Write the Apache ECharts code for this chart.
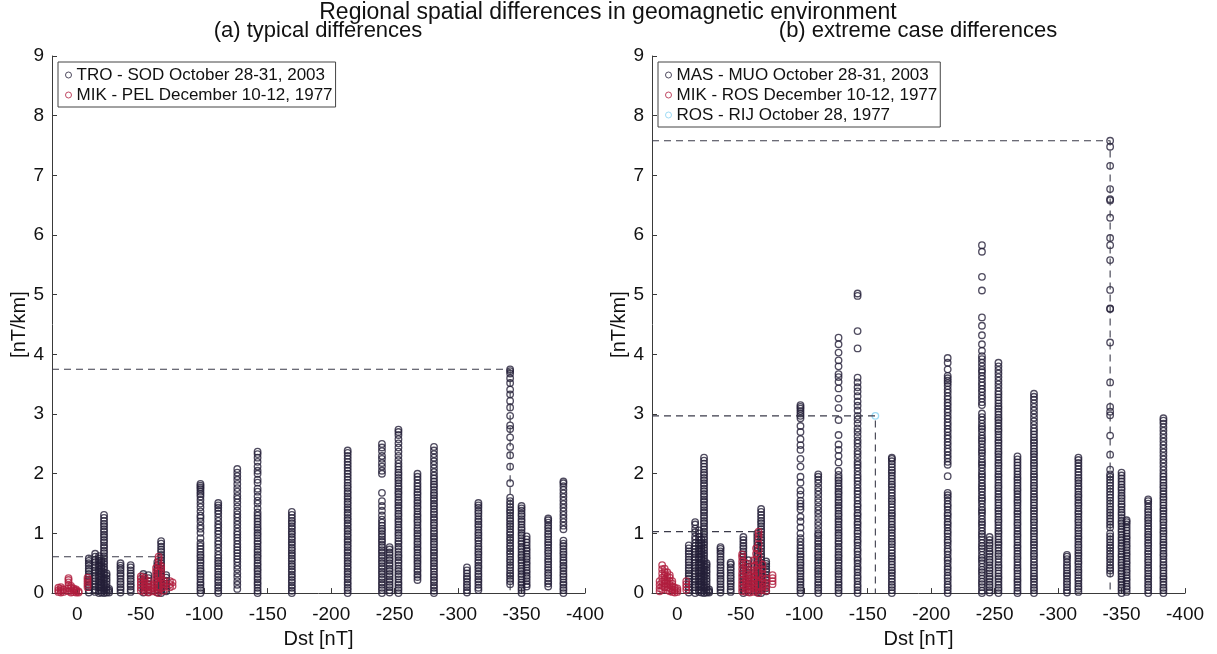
<!DOCTYPE html>
<html>
<head>
<meta charset="utf-8">
<script src="https://cdn.jsdelivr.net/npm/echarts@6/dist/echarts.min.js"></script>
<style>html,body{margin:0;padding:0;background:#fff}#c{width:1217px;height:654px}</style>
</head>
<body>
<div id="c"></div>
<script>
// ---------- DATA ----------
const mainTitle = 'Regional spatial differences in geomagnetic environment';
const panelTitles = ['(a) typical differences', '(b) extreme case differences'];
const xName = 'Dst [nT]';
const yName = '[nT/km]';
const xMin = -400, xMax = 20, xStep = 50;
const yMin = 0, yMax = 9, yStep = 1;

// (a) TRO - SOD October 28-31, 2003 : Dst column positions and the values in each column
const troSodDst = [-9,-14,-17,-19,-21,-23,-25,-34,-42,-52,-56,-63,-66,-70,-97,-111,-126,-142,-169,-213,-240,-246,-253,-268,-281,-307,-316,-341,-350,-354,-371,-383];
const troSodY = [
[0.01,0.05,0.1,0.14,0.19,0.23,0.28,0.32,0.37,0.41,0.46,0.5,0.54,0.58],
[0.02,0.06,0.11,0.15,0.2,0.25,0.29,0.34,0.38,0.43,0.47,0.52,0.56,0.61,0.66],
[0,0.04,0.09,0.13,0.18,0.22,0.27,0.31,0.36,0.4,0.45,0.49,0.54,0.58,0.62],
[0.01,0.05,0.1,0.15,0.19,0.24,0.28,0.33,0.37,0.42,0.46,0.51,0.55],
[0,0.04,0.08,0.13,0.17,0.22,0.26,0.31,0.35,0.4,0.44,0.49,0.53,0.58,0.62,0.67,0.71,0.76,0.8,0.85,0.89,0.94,0.98,1.03,1.07,1.12,1.16,1.21,1.26,1.31],
[0.01,0.06,0.1,0.15,0.2,0.24,0.29,0.33],
[0.01,0.04,0.07],
[0.01,0.06,0.1,0.15,0.19,0.24,0.29,0.33,0.38,0.42,0.46,0.5],
[0.02,0.06,0.11,0.15,0.2,0.24,0.29,0.33,0.38,0.43,0.47],
[0.01,0.05,0.1,0.14,0.19,0.23,0.28,0.32],
[0.02,0.06,0.11,0.15,0.2,0.25,0.3],
[0.01,0.06,0.1,0.15,0.19,0.24,0.29,0.33,0.38,0.42,0.47,0.52],
[0,0.05,0.09,0.14,0.18,0.23,0.28,0.32,0.37,0.41,0.46,0.5,0.55,0.6,0.64,0.69,0.73,0.78,0.83,0.87],
[0.03,0.07,0.12,0.16,0.21,0.26,0.3],
[0,0.05,0.09,0.14,0.18,0.23,0.28,0.32,0.37,0.41,0.46,0.51,0.55,0.6,0.64,0.69,0.74,0.79,0.84,0.92,1.01,1.08,1.13,1.2,1.26,1.3,1.37,1.44,1.5,1.56,1.62,1.66,1.7,1.74,1.77,1.8,1.83],
[0,0.04,0.09,0.13,0.18,0.22,0.27,0.31,0.36,0.41,0.45,0.5,0.54,0.59,0.64,0.7,0.76,0.82,0.87,0.93,0.99,1.04,1.1,1.15,1.21,1.27,1.33,1.38,1.43,1.47,1.51],
[0.07,0.14,0.2,0.27,0.33,0.4,0.46,0.52,0.57,0.62,0.67,0.72,0.77,0.82,0.88,0.93,0.98,1.03,1.09,1.15,1.21,1.27,1.32,1.38,1.45,1.52,1.58,1.63,1.7,1.76,1.83,1.9,1.96,2.02,2.08],
[0,0.04,0.09,0.14,0.18,0.23,0.27,0.32,0.37,0.41,0.46,0.5,0.55,0.6,0.64,0.69,0.73,0.78,0.83,0.87,0.92,0.97,1.01,1.06,1.1,1.15,1.2,1.25,1.3,1.35,1.42,1.5,1.55,1.62,1.7,1.75,1.85,1.9,2.0,2.05,2.12,2.2,2.27,2.33,2.37],
[0,0.04,0.09,0.13,0.18,0.22,0.27,0.31,0.36,0.4,0.45,0.49,0.54,0.58,0.63,0.67,0.72,0.76,0.81,0.85,0.9,0.94,0.99,1.03,1.08,1.12,1.17,1.21,1.26,1.31,1.36],
[0,0.05,0.09,0.14,0.18,0.23,0.27,0.32,0.36,0.41,0.45,0.5,0.54,0.59,0.63,0.68,0.72,0.77,0.81,0.86,0.9,0.95,0.99,1.04,1.08,1.13,1.17,1.22,1.26,1.31,1.35,1.4,1.44,1.49,1.53,1.58,1.62,1.67,1.71,1.76,1.8,1.85,1.9,1.95,2.0,2.05,2.1,2.15,2.2,2.25,2.3,2.35,2.39],
[0,0.05,0.09,0.14,0.18,0.23,0.27,0.32,0.36,0.41,0.45,0.5,0.54,0.59,0.63,0.68,0.72,0.77,0.81,0.86,0.9,0.95,0.99,1.04,1.08,1.13,1.18,1.23,1.3,1.38,1.46,1.54,1.68,2.0,2.05,2.12,2.18,2.25,2.3,2.38,2.44,2.5],
[0.01,0.05,0.1,0.14,0.19,0.23,0.28,0.32,0.37,0.41,0.46,0.5,0.55,0.59,0.64,0.68,0.73,0.77],
[0,0.05,0.09,0.14,0.18,0.23,0.28,0.32,0.37,0.41,0.46,0.51,0.55,0.6,0.64,0.69,0.74,0.78,0.83,0.87,0.92,0.97,1.01,1.06,1.1,1.15,1.2,1.24,1.29,1.33,1.38,1.43,1.47,1.52,1.56,1.61,1.66,1.7,1.75,1.79,1.84,1.89,1.93,1.98,2.02,2.07,2.12,2.17,2.23,2.3,2.37,2.44,2.51,2.58,2.65,2.7,2.74],
[0.22,0.27,0.31,0.36,0.4,0.45,0.5,0.54,0.59,0.63,0.68,0.73,0.77,0.82,0.86,0.91,0.96,1.0,1.05,1.09,1.14,1.19,1.23,1.28,1.32,1.37,1.42,1.46,1.51,1.55,1.6,1.65,1.69,1.74,1.79,1.84,1.9,1.95,2.0],
[0,0.04,0.09,0.13,0.18,0.22,0.27,0.31,0.36,0.41,0.45,0.5,0.54,0.59,0.63,0.68,0.72,0.77,0.82,0.86,0.91,0.95,1.0,1.04,1.09,1.14,1.18,1.23,1.27,1.32,1.36,1.41,1.46,1.5,1.55,1.59,1.64,1.68,1.73,1.78,1.82,1.87,1.92,1.97,2.03,2.09,2.15,2.21,2.27,2.33,2.39,2.45],
[0.01,0.05,0.1,0.14,0.19,0.24,0.28,0.33,0.38,0.43],
[0.05,0.09,0.14,0.19,0.23,0.28,0.32,0.37,0.42,0.46,0.51,0.55,0.6,0.65,0.69,0.74,0.78,0.83,0.88,0.92,0.97,1.01,1.06,1.11,1.15,1.2,1.24,1.29,1.34,1.38,1.43,1.47,1.51],
[0.15,0.2,0.24,0.29,0.33,0.38,0.43,0.47,0.52,0.56,0.61,0.66,0.7,0.75,0.79,0.84,0.89,0.93,0.98,1.02,1.07,1.12,1.16,1.21,1.25,1.3,1.35,1.39,1.44,1.49,1.54,1.6,1.84,2.12,2.31,2.45,2.61,2.75,2.81,2.97,3.11,3.22,3.33,3.41,3.52,3.6,3.68,3.72,3.75],
[0,0.05,0.09,0.14,0.18,0.23,0.28,0.32,0.37,0.41,0.46,0.51,0.55,0.6,0.64,0.69,0.74,0.78,0.83,0.87,0.92,0.97,1.01,1.06,1.1,1.15,1.2,1.24,1.29,1.33,1.38,1.42,1.46],
[0.11,0.15,0.2,0.25,0.29,0.34,0.38,0.43,0.48,0.52,0.57,0.61,0.66,0.71,0.75,0.8,0.85,0.9,0.95],
[0.11,0.16,0.2,0.25,0.3,0.34,0.39,0.43,0.48,0.53,0.57,0.62,0.67,0.71,0.76,0.81,0.85,0.9,0.95,0.99,1.04,1.09,1.13,1.18,1.22,1.25],
[0,0.05,0.09,0.14,0.18,0.23,0.28,0.32,0.37,0.42,0.46,0.51,0.55,0.6,0.65,0.69,0.74,0.79,0.83,0.88,1.07,1.13,1.19,1.25,1.31,1.37,1.43,1.49,1.55,1.61,1.67,1.73,1.79,1.84,1.87]
];

// (a) MIK - PEL December 10-12, 1977
const mikPelDst = [15,13,11,7,5,3,1,-1,-8,-50,-53,-56,-59,-62,-64,-66,-68,-73,-75];
const mikPelY = [
[0.02,0.05,0.09],[0.01,0.04,0.07,0.1],[0.02,0.06],[0.03,0.08,0.13,0.18,0.22,0.25],[0.01,0.05,0.09,0.12],
[0.02,0.05,0.08],[0.01,0.04,0.06],[0.01,0.03],[0.1,0.14,0.18,0.22,0.26],
[0.04,0.09,0.14,0.19,0.24,0.28],[0.02,0.07,0.12,0.17,0.22,0.26],[0.01,0.05,0.1,0.15,0.2],[0.03,0.08,0.13],
[0.02,0.07,0.12,0.18,0.24,0.3,0.36,0.42],[0,0.05,0.1,0.16,0.22,0.28,0.34,0.4,0.46,0.52,0.57,0.61],
[0.08,0.14,0.2,0.26,0.33,0.4,0.45],[0.04,0.1,0.16,0.21],[0.1,0.15,0.2],[0.12,0.18]
];

// (b) MAS - MUO October 28-31, 2003
const masMuoDst = [-9,-14,-17,-19,-21,-23,-25,-34,-42,-52,-56,-63,-66,-70,-97,-111,-127,-142,-169,-213,-240,-246,-253,-268,-281,-307,-316,-341,-350,-354,-371,-383];
const masMuoY = [
[0.01,0.06,0.1,0.15,0.19,0.24,0.29,0.33,0.38,0.42,0.47,0.52,0.56,0.61,0.66,0.7,0.75,0.8],
[0,0.05,0.1,0.14,0.19,0.23,0.28,0.33,0.37,0.42,0.46,0.51,0.56,0.6,0.65,0.69,0.74,0.79,0.84,0.9,0.95,1.02,1.08,1.15,1.19],
[0.02,0.06,0.11,0.15,0.2,0.25,0.29,0.34,0.38,0.43,0.48,0.52,0.57,0.61,0.66,0.71,0.75,0.8,0.84,0.89,0.94,1.0,1.05],
[0.01,0.05,0.1,0.14,0.19,0.24,0.28,0.33,0.37,0.42,0.47,0.51,0.56,0.6,0.65,0.7,0.74,0.79,0.84,0.9],
[0,0.04,0.09,0.13,0.18,0.22,0.27,0.31,0.36,0.4,0.45,0.49,0.54,0.58,0.63,0.67,0.72,0.76,0.81,0.85,0.9,0.94,0.99,1.03,1.08,1.12,1.17,1.21,1.26,1.3,1.35,1.39,1.44,1.48,1.53,1.57,1.62,1.66,1.71,1.75,1.8,1.84,1.89,1.93,1.98,2.02,2.07,2.12,2.17,2.22,2.27],
[0.01,0.06,0.1,0.15,0.2,0.24,0.29,0.34,0.38,0.43,0.47,0.5],
[0.01,0.03,0.06],
[0.01,0.06,0.1,0.15,0.2,0.24,0.29,0.33,0.38,0.43,0.47,0.52,0.56,0.61,0.66,0.7,0.74,0.77],
[0.02,0.06,0.11,0.16,0.2,0.25,0.29,0.34,0.39,0.43,0.48,0.51],
[0,0.05,0.09,0.14,0.19,0.23,0.28,0.33,0.37,0.42,0.47,0.51,0.56,0.61,0.65,0.7,0.75,0.79,0.84,0.89,0.94],
[0.02,0.06,0.11,0.16,0.2,0.25,0.3,0.34,0.39,0.44,0.49,0.55],
[0.01,0.06,0.1,0.15,0.2,0.24,0.29,0.34,0.38,0.43,0.48,0.52,0.57,0.62,0.66,0.71,0.76,0.8,0.85,0.9,0.95,1.0],
[0,0.05,0.09,0.14,0.19,0.23,0.28,0.33,0.37,0.42,0.47,0.51,0.56,0.61,0.65,0.7,0.75,0.79,0.84,0.89,0.93,0.98,1.03,1.07,1.12,1.17,1.21,1.26,1.31,1.36,1.41],
[0.03,0.08,0.12,0.17,0.22,0.26,0.31,0.36,0.4,0.45,0.49,0.53],
[0,0.05,0.09,0.14,0.19,0.23,0.28,0.33,0.37,0.42,0.47,0.51,0.56,0.61,0.65,0.7,0.75,0.8,0.86,0.92,1.0,1.1,1.2,1.28,1.4,1.45,1.5,1.55,1.65,1.72,1.85,1.95,2.12,2.25,2.4,2.48,2.58,2.7,2.8,2.93,2.97,3.01,3.05,3.09,3.12,3.15],
[0,0.05,0.09,0.14,0.18,0.23,0.28,0.32,0.37,0.41,0.46,0.51,0.55,0.6,0.64,0.69,0.74,0.78,0.83,0.87,0.92,0.97,1.0,1.06,1.13,1.19,1.26,1.33,1.39,1.45,1.52,1.58,1.65,1.71,1.77,1.84,1.9,1.95,1.99],
[0,0.05,0.09,0.14,0.18,0.23,0.28,0.32,0.37,0.41,0.46,0.51,0.55,0.6,0.64,0.69,0.74,0.78,0.83,0.87,0.92,0.97,1.01,1.06,1.1,1.15,1.2,1.24,1.29,1.33,1.38,1.43,1.47,1.52,1.56,1.61,1.66,1.7,1.75,1.79,1.84,1.89,1.93,1.98,2.05,2.19,2.3,2.4,2.49,2.65,2.9,3.1,3.26,3.43,3.54,3.62,3.67,3.8,3.9,4.03,4.17,4.28],
[0,0.05,0.1,0.14,0.2,0.25,0.29,0.35,0.4,0.44,0.5,0.55,0.59,0.65,0.7,0.74,0.8,0.85,0.89,0.95,1.0,1.04,1.1,1.15,1.19,1.25,1.3,1.34,1.4,1.45,1.49,1.55,1.6,1.66,1.71,1.76,1.82,1.88,1.93,1.98,2.04,2.1,2.15,2.2,2.27,2.33,2.38,2.45,2.51,2.56,2.63,2.7,2.76,2.84,2.91,2.97,3.06,3.14,3.21,3.3,3.38,3.45,3.53,3.61,4.1,4.39,4.98,5.02],
[0,0.05,0.1,0.14,0.19,0.24,0.29,0.34,0.38,0.43,0.48,0.53,0.58,0.62,0.67,0.72,0.77,0.82,0.86,0.91,0.96,1.01,1.06,1.1,1.15,1.2,1.25,1.3,1.34,1.39,1.44,1.49,1.54,1.58,1.63,1.68,1.73,1.78,1.82,1.87,1.92,1.97,2.02,2.06,2.11,2.16,2.21,2.25,2.27],
[0,0.05,0.1,0.14,0.2,0.25,0.29,0.35,0.4,0.44,0.5,0.55,0.59,0.65,0.7,0.74,0.8,0.85,0.89,0.95,1.0,1.04,1.1,1.15,1.19,1.25,1.3,1.34,1.4,1.45,1.49,1.55,1.6,1.64,1.68,1.96,2.15,2.2,2.26,2.31,2.37,2.42,2.48,2.53,2.59,2.64,2.7,2.75,2.81,2.86,2.92,2.97,3.03,3.08,3.14,3.19,3.25,3.3,3.36,3.41,3.47,3.52,3.56,3.6,3.64,3.75,3.86,3.94],
[0,0.04,0.1,0.15,0.19,0.24,0.3,0.35,0.39,0.44,0.5,0.55,0.59,0.64,0.7,0.75,0.79,0.84,0.9,0.95,0.99,1.04,1.1,1.15,1.19,1.24,1.3,1.35,1.39,1.44,1.5,1.55,1.59,1.64,1.7,1.75,1.79,1.84,1.9,1.95,1.99,2.04,2.1,2.15,2.19,2.24,2.3,2.35,2.39,2.44,2.5,2.55,2.59,2.64,2.7,2.75,2.79,2.84,2.9,2.95,3.01,3.15,3.2,3.26,3.31,3.37,3.42,3.48,3.53,3.59,3.64,3.7,3.74,3.8,3.86,3.92,3.97,4.06,4.17,4.32,4.48,4.62,5.07,5.3,5.72,5.83],
[0.01,0.05,0.1,0.14,0.19,0.24,0.28,0.33,0.38,0.42,0.47,0.52,0.56,0.61,0.66,0.7,0.75,0.8,0.84,0.89,0.94],
[0,0.05,0.09,0.14,0.19,0.24,0.28,0.33,0.38,0.43,0.47,0.52,0.57,0.62,0.66,0.71,0.76,0.81,0.85,0.9,0.95,1.0,1.04,1.09,1.14,1.19,1.23,1.28,1.33,1.38,1.42,1.47,1.52,1.57,1.61,1.66,1.71,1.76,1.8,1.85,1.9,1.95,1.99,2.04,2.09,2.14,2.18,2.23,2.28,2.33,2.37,2.42,2.47,2.52,2.56,2.61,2.66,2.71,2.75,2.8,2.85,2.9,2.94,2.99,3.04,3.09,3.13,3.18,3.23,3.28,3.33,3.38,3.44,3.5,3.56,3.62,3.68,3.74,3.8,3.86],
[0,0.04,0.09,0.14,0.19,0.23,0.28,0.33,0.38,0.42,0.47,0.52,0.57,0.61,0.66,0.71,0.76,0.8,0.85,0.9,0.95,0.99,1.04,1.09,1.14,1.18,1.23,1.28,1.33,1.37,1.42,1.47,1.52,1.56,1.61,1.66,1.71,1.75,1.8,1.85,1.9,1.94,1.99,2.04,2.09,2.14,2.19,2.24,2.29],
[0,0.05,0.09,0.14,0.19,0.24,0.28,0.33,0.38,0.43,0.47,0.52,0.57,0.62,0.66,0.71,0.76,0.81,0.85,0.9,0.95,1.0,1.04,1.09,1.14,1.19,1.23,1.28,1.33,1.38,1.42,1.47,1.52,1.57,1.61,1.66,1.71,1.76,1.8,1.85,1.9,1.95,1.99,2.04,2.09,2.14,2.18,2.23,2.28,2.33,2.37,2.42,2.47,2.52,2.56,2.61,2.66,2.71,2.76,2.82,2.88,2.94,3.0,3.06,3.12,3.18,3.24,3.29,3.34],
[0.01,0.05,0.1,0.15,0.19,0.24,0.29,0.33,0.38,0.43,0.47,0.52,0.57,0.61,0.64],
[0.02,0.07,0.11,0.16,0.21,0.25,0.3,0.35,0.39,0.44,0.49,0.53,0.58,0.63,0.67,0.72,0.77,0.81,0.86,0.91,0.95,1.0,1.05,1.09,1.14,1.19,1.23,1.28,1.33,1.37,1.42,1.47,1.51,1.56,1.61,1.65,1.7,1.75,1.79,1.84,1.89,1.93,1.98,2.03,2.08,2.13,2.18,2.23,2.27],
[0.33,0.38,0.42,0.47,0.52,0.57,0.61,0.66,0.71,0.76,0.8,0.85,0.9,0.95,1.0,1.1,1.15,1.2,1.25,1.3,1.35,1.4,1.45,1.5,1.55,1.6,1.65,1.7,1.75,1.8,1.85,1.9,1.95,1.99,2.07,2.32,2.64,2.98,3.04,3.12,3.53,4.2,4.76,4.77,5.08,5.58,5.83,5.95,6.29,6.58,6.6,6.77,7.16,7.48,7.58],
[0,0.05,0.09,0.14,0.19,0.23,0.28,0.33,0.37,0.42,0.47,0.51,0.56,0.61,0.65,0.7,0.75,0.79,0.84,0.89,0.93,0.98,1.03,1.07,1.12,1.17,1.21,1.26,1.31,1.35,1.4,1.45,1.49,1.54,1.59,1.63,1.68,1.73,1.77,1.82,1.87,1.92,1.97,2.02],
[0.02,0.07,0.11,0.16,0.21,0.25,0.3,0.35,0.39,0.44,0.49,0.53,0.58,0.63,0.67,0.72,0.77,0.81,0.86,0.91,0.95,1.0,1.05,1.1,1.15,1.19,1.22],
[0,0.05,0.1,0.14,0.19,0.24,0.28,0.33,0.38,0.42,0.47,0.52,0.56,0.61,0.66,0.7,0.75,0.8,0.84,0.89,0.94,0.98,1.03,1.08,1.12,1.17,1.22,1.26,1.31,1.36,1.4,1.45,1.5,1.54,1.57],
[0,0.05,0.09,0.14,0.19,0.24,0.28,0.33,0.38,0.43,0.47,0.52,0.57,0.62,0.66,0.71,0.76,0.81,0.85,0.9,0.95,1.0,1.04,1.09,1.14,1.19,1.23,1.28,1.33,1.38,1.42,1.47,1.52,1.57,1.61,1.66,1.71,1.76,1.8,1.85,1.9,1.95,2.0,2.06,2.12,2.18,2.24,2.3,2.36,2.42,2.48,2.54,2.6,2.66,2.72,2.78,2.84,2.89,2.93]
];

// (b) MIK - ROS December 10-12, 1977
const mikRosDst = [14,12,10,8,6,4,2,0,-7,-51,-54,-57,-60,-62,-64,-67,-70,-75];
const mikRosY = [
[0.03,0.08,0.14,0.2],[0.06,0.12,0.19,0.26,0.33,0.4,0.47],[0.1,0.16,0.22,0.29,0.35,0.41],[0.05,0.1,0.16,0.22,0.28,0.35],
[0.03,0.08,0.14,0.2,0.26,0.3],[0.02,0.06,0.11,0.16,0.2],[0.01,0.05,0.09],[0.02,0.05,0.08],[0.05,0.1,0.15,0.2],
[0.03,0.09,0.15,0.21,0.27,0.33,0.4,0.47,0.53,0.6,0.65],[0.02,0.07,0.13,0.19,0.25,0.31,0.37,0.44,0.5],
[0.01,0.06,0.12,0.18,0.24,0.3],[0.02,0.08,0.14,0.2,0.26,0.32,0.38,0.45,0.55],
[0.03,0.09,0.15,0.22,0.3,0.38,0.47,0.56,0.66,0.75],[0,0.06,0.12,0.19,0.27,0.35,0.44,0.53,0.62,0.72,0.82,0.92,0.98,1.03],
[0.05,0.11,0.18,0.25,0.32,0.4,0.48],[0.04,0.1,0.17,0.24],[0.15,0.2,0.25,0.3]
];

// (b) ROS - RIJ October 28, 1977
const rosRijDst = [-156];
const rosRijY = [[2.97]];

const seriesNamesA = ['TRO - SOD October 28-31, 2003', 'MIK - PEL December 10-12, 1977'];
const seriesNamesB = ['MAS - MUO October 28-31, 2003', 'MIK - ROS December 10-12, 1977', 'ROS - RIJ October 28, 1977'];

// ---------- STYLE ----------
const FONT = '"Liberation Sans", Arial, Helvetica, sans-serif';
const C_DARK = '#241f38';
const C_RED = '#b01d3d';
const C_CYAN = '#86d2f2';

function toPoints(dsts, ys) {
  const out = [];
  dsts.forEach((d, i) => ys[i].forEach(v => out.push([d, v])));
  return out;
}
function maxPoint(pts) {
  let m = pts[0];
  pts.forEach(p => { if (p[1] > m[1]) m = p; });
  return m;
}
function scatter(name, pts, color, gi, z) {
  return {
    type: 'scatter', name: name, data: pts, xAxisIndex: gi, yAxisIndex: gi,
    symbol: 'circle', symbolSize: 6.5, z: z,
    itemStyle: { color: 'rgba(0,0,0,0)', borderColor: color, borderWidth: 1.35 },
    emphasis: { disabled: true }, silent: true, progressive: 0, animation: false
  };
}
function guide(p, gi) {
  return {
    type: 'line', xAxisIndex: gi, yAxisIndex: gi, symbol: 'none', silent: true, z: 6,
    data: [[xMax, p[1]], [p[0], p[1]], [p[0], 0]],
    lineStyle: { type: [7, 5], color: '#3b3b4a', width: 1.1 }, animation: false
  };
}

const ptsA1 = toPoints(troSodDst, troSodY);
const ptsA2 = toPoints(mikPelDst, mikPelY);
const ptsB1 = toPoints(masMuoDst, masMuoY);
const ptsB2 = toPoints(mikRosDst, mikRosY);
const ptsB3 = toPoints(rosRijDst, rosRijY);

const grids = [
  { left: 52, top: 56, width: 533, height: 542 },
  { left: 652, top: 56, width: 533, height: 542 }
];

function xAxis(gi) {
  return {
    type: 'value', gridIndex: gi, inverse: true, min: xMin, max: xMax, interval: xStep,
    name: xName, nameLocation: 'middle', nameGap: 35,
    nameTextStyle: { fontFamily: FONT, fontSize: 20, color: '#111' },
    axisLine: { show: true, onZero: false, lineStyle: { color: '#3a3a3a', width: 1 } },
    axisTick: { show: true, inside: true, length: 5, lineStyle: { color: '#3a3a3a' } },
    axisLabel: { fontFamily: FONT, fontSize: 19, color: '#111', margin: 12,
      formatter: v => (v === xMax ? '' : String(v)) },
    splitLine: { show: false }
  };
}
function yAxis(gi) {
  return {
    type: 'value', gridIndex: gi, min: yMin, max: yMax, interval: yStep, position: 'left',
    name: yName, nameLocation: 'middle', nameGap: 22,
    nameTextStyle: { fontFamily: FONT, fontSize: 20, color: '#111' },
    axisLine: { show: true, onZero: false, lineStyle: { color: '#3a3a3a', width: 1 } },
    axisTick: { show: true, inside: true, length: 5, lineStyle: { color: '#3a3a3a' } },
    axisLabel: { fontFamily: FONT, fontSize: 19, color: '#111', margin: 8 },
    splitLine: { show: false }
  };
}
function legend(left, names, colors) {
  return {
    left: left, top: 62, orient: 'vertical', selectedMode: false,
    backgroundColor: '#fff', borderColor: '#444', borderWidth: 1,
    padding: [4, 3, 3, 7], itemWidth: 6, itemHeight: 6, itemGap: 2,
    textStyle: { fontFamily: FONT, fontSize: 17, color: '#111', lineHeight: 18 },
    data: names.map((n, i) => ({ name: n, icon: 'circle',
      itemStyle: { color: 'rgba(0,0,0,0)', borderColor: colors[i], borderWidth: 1 } }))
  };
}

const option = {
  backgroundColor: '#fff',
  animation: false,
  grid: grids,
  xAxis: [xAxis(0), xAxis(1)],
  yAxis: [yAxis(0), yAxis(1)],
  legend: [
    legend(58, seriesNamesA, [C_DARK, C_RED]),
    legend(658, seriesNamesB, [C_DARK, C_RED, C_CYAN])
  ],
  graphic: [
    { type: 'text', x: 608, y: 13, silent: true,
      style: { text: mainTitle, textAlign: 'center', textVerticalAlign: 'middle', font: '23px ' + FONT, fill: '#111' } },
    { type: 'text', x: 318, y: 31, silent: true,
      style: { text: panelTitles[0], textAlign: 'center', textVerticalAlign: 'middle', font: '22px ' + FONT, fill: '#111' } },
    { type: 'text', x: 918, y: 31, silent: true,
      style: { text: panelTitles[1], textAlign: 'center', textVerticalAlign: 'middle', font: '22px ' + FONT, fill: '#111' } }
  ],
  series: [
    scatter(seriesNamesA[0], ptsA1, C_DARK, 0, 2),
    scatter(seriesNamesA[1], ptsA2, C_RED, 0, 3),
    guide(maxPoint(ptsA1), 0),
    guide(maxPoint(ptsA2), 0),
    scatter(seriesNamesB[0], ptsB1, C_DARK, 1, 2),
    scatter(seriesNamesB[1], ptsB2, C_RED, 1, 3),
    scatter(seriesNamesB[2], ptsB3, C_CYAN, 1, 4),
    guide(maxPoint(ptsB1), 1),
    guide(maxPoint(ptsB2), 1),
    guide(maxPoint(ptsB3), 1)
  ]
};

const chart = echarts.init(document.getElementById('c'), null, { renderer: 'canvas' });
chart.setOption(option);
</script>
</body>
</html>
